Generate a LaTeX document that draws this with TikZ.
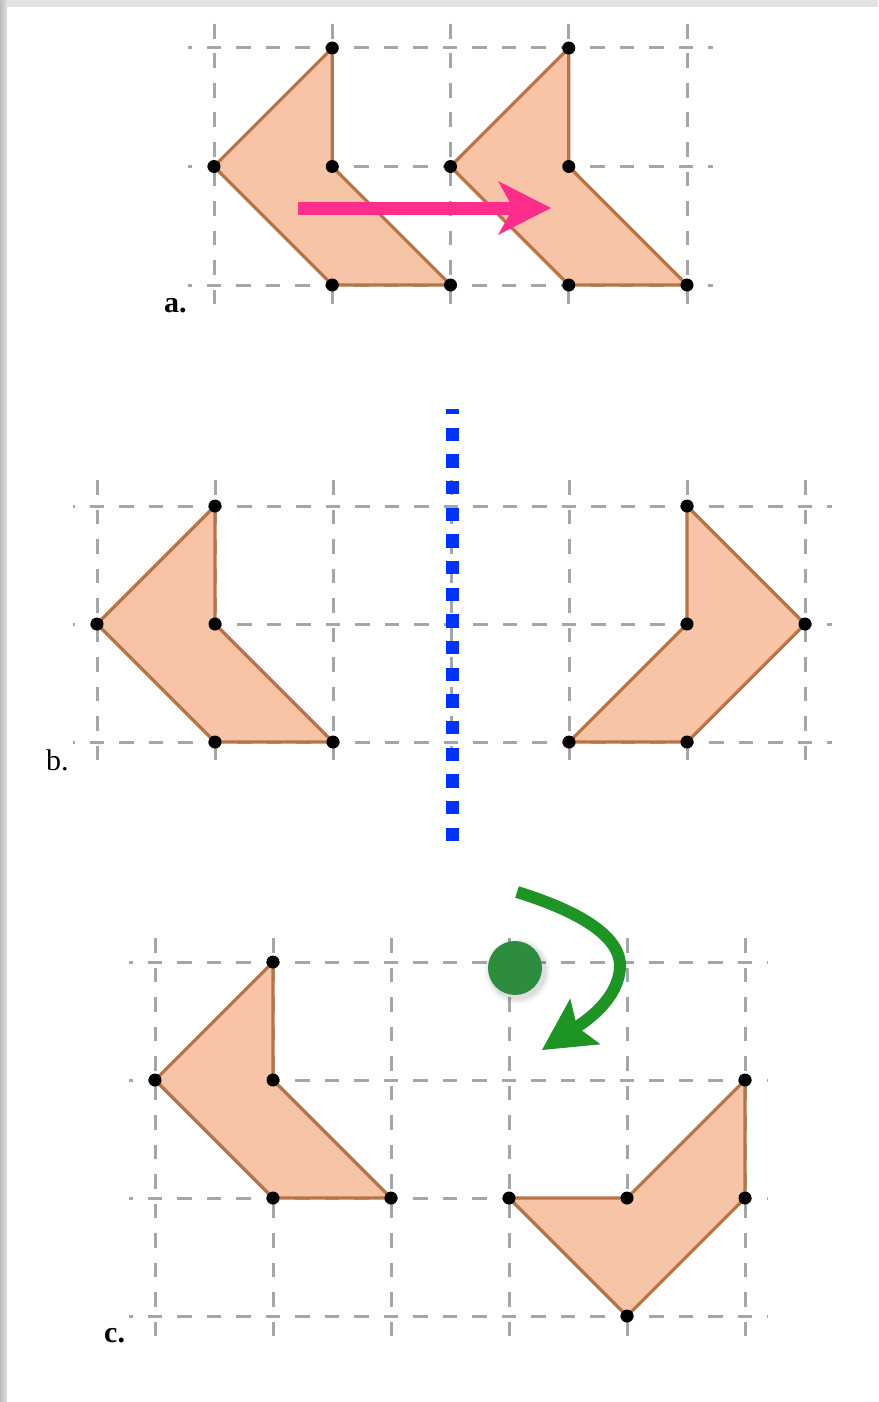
\documentclass[tikz,border=0pt]{standalone}
\usepackage{fontspec}
\setmainfont{Liberation Serif}
\usetikzlibrary{arrows.meta}
\definecolor{gridc}{RGB}{165,166,170}
\definecolor{shapefill}{RGB}{247,196,168}
\definecolor{shapeline}{RGB}{183,116,70}
\definecolor{pinkc}{RGB}{255,45,140}
\definecolor{bluec}{RGB}{0,51,255}
\definecolor{greenc}{RGB}{30,148,36}
\definecolor{dotgreen}{RGB}{46,140,62}
\definecolor{topband}{RGB}{227,227,227}
\begin{document}
\begin{tikzpicture}[x=1pt,y=-1pt,
  gridline/.style={draw=gridc,line width=3pt,dash pattern=on 14.75pt off 14.75pt},
  figshape/.style={fill=shapefill,draw=shapeline,line width=3.2pt,line join=round},
  vdot/.style={fill=black},
  lbl/.style={font=\fontsize{30}{36}\selectfont,anchor=base west,inner sep=0pt},
  pinkarrow/.style={draw=pinkc,line width=13pt,-{Stealth[length=53pt,width=54pt,inset=15pt,line width=0pt]}},
  greenarrow/.style={draw=greenc,line width=12pt,-{Stealth[length=52pt,width=55pt,inset=10pt,line width=0pt]}},
  bluedots/.style={draw=bluec,line width=13pt,dash pattern=on 13.33pt off 13.33pt}]
\useasboundingbox (0,0) rectangle (878,1402);
\fill[white] (0,0) rectangle (878,1402);
\fill[topband] (0,0) rectangle (878,7);
\shade[left color={rgb,255:red,190;green,190;blue,190},right color={rgb,255:red,225;green,225;blue,225}] (0,0) rectangle (7,1402);

% ---------- panel a ----------
\foreach \y in {48,166.5,285} \draw[gridline,dash phase=10.875pt] (188,\y) -- (713,\y);
\foreach \x in {214,332.25,450.5,568.75,687} \draw[gridline] (\x,24) -- (\x,307);
\draw[figshape] (214,166.5) -- (332.25,48) -- (332.25,166.5) -- (450.5,285) -- (332.25,285) -- cycle;
\draw[figshape] (450.5,166.5) -- (568.75,48) -- (568.75,166.5) -- (687,285) -- (568.75,285) -- cycle;
\foreach \p in {(214,166.5),(332.25,48),(332.25,166.5),(450.5,285),(332.25,285),
                (450.5,166.5),(568.75,48),(568.75,166.5),(687,285),(568.75,285)}
  \fill[vdot] \p circle (6.5);
\coordinate (pa1) at (298,208);
\coordinate (pa2) at (551,208);
\draw[pinkarrow] (pa1) -- (pa2);
\node[lbl] (la) at (164,312) {\textbf{a.}};

% ---------- panel b ----------
\foreach \y in {506,624,742} \draw[gridline,dash phase=12.875pt] (73,\y) -- (832,\y);
\foreach \x in {97,215,333,451,569,687,805} \draw[gridline] (\x,480) -- (\x,763);
\draw[figshape] (97,624) -- (215,506) -- (215,624) -- (333,742) -- (215,742) -- cycle;
\draw[figshape] (805,624) -- (687,506) -- (687,624) -- (569,742) -- (687,742) -- cycle;
\foreach \p in {(97,624),(215,506),(215,624),(333,742),(215,742),
                (805,624),(687,506),(687,624),(569,742),(687,742)}
  \fill[vdot] \p circle (6.5);
\coordinate (bl1) at (452,841);
\coordinate (bl2) at (452,408.5);
\draw[bluedots] (bl1) -- (bl2);
\node[lbl] (lb) at (46,770) {b.};

% ---------- panel c ----------
\foreach \y in {962,1080,1198,1316} \draw[gridline,dash phase=10.875pt] (129,\y) -- (768,\y);
\foreach \x in {155,273,391,509,627,745} \draw[gridline] (\x,938) -- (\x,1339);
\draw[figshape] (155,1080) -- (273,962) -- (273,1080) -- (391,1198) -- (273,1198) -- cycle;
\draw[figshape] (745,1080) -- (745,1198) -- (627,1316) -- (509,1198) -- (627,1198) -- cycle;
\foreach \p in {(155,1080),(273,962),(273,1080),(391,1198),(273,1198),
                (745,1080),(745,1198),(627,1316),(509,1198),(627,1198)}
  \fill[vdot] \p circle (6.5);
\foreach \r/\o in {33/0.025,31.5/0.03,30/0.035,28.5/0.04}
  \fill[black,opacity=\o] (517.5,971) circle (\r);
\node[circle,fill=dotgreen,minimum size=54pt,inner sep=0pt] (gdot) at (515,968) {};
\coordinate (ga1) at (517,892);
\coordinate (ga2) at (542,1050);
\draw[greenarrow] (ga1) .. controls (575,910) and (622,935) .. (620,968)
                        .. controls (618,995) and (595,1015) .. (ga2);
\node[lbl] (lc) at (104,1342) {\textbf{c.}};
\end{tikzpicture}
\end{document}
